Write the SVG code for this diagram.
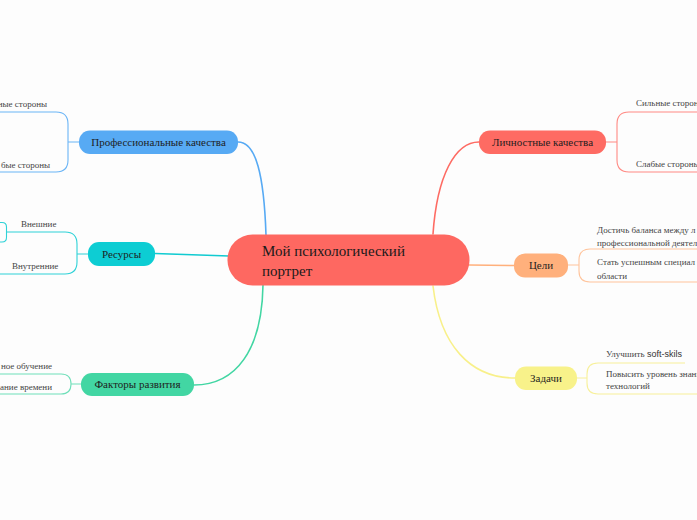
<svg xmlns="http://www.w3.org/2000/svg" width="697" height="520" viewBox="0 0 697 520">
<style>
.n{font-family:"Liberation Serif",serif;font-size:11px;fill:#1e1e1e;text-anchor:middle}
.s{font-family:"Liberation Serif",serif;font-size:9px;fill:#444}
.c{fill:none;stroke-width:1.6;stroke-linecap:round}
.b{fill:none;stroke-width:1.1}
</style>
<rect width="697" height="520" fill="#fdfdfd"/>
<g id="connectors">
<path class="c" stroke="#57aaf4" d="M238,142 C256,142 264,175 266,235"/>
<path class="c" stroke="#11cbd1" d="M155,253.5 L229,256"/>
<path class="c" stroke="#42d6a3" d="M194,385 C236,385 262,350 263,285"/>
<path class="c" stroke="#fe6b63" d="M479,142 C455,142 437,176 433,234"/>
<path class="c" stroke="#ffb07c" d="M469,265 L514,265.5"/>
<path class="c" stroke="#f8f08a" d="M433,286 C440,345 470,378 515,378"/>
<path class="b" stroke="#6bb5f6" d="M79,142 L68,142 M0,112 L56,112 Q68,112 68,124 L68,160 Q68,172 56,172 L0,172"/>
<path class="b" stroke="#2fd2d7" d="M88,254 L77,254 M6.5,232 L65,232 Q77,232 77,244 L77,262 Q77,274 65,274 L0,274 M0,222.5 L2,222.5 Q6.5,222.5 6.5,227 L6.5,237.5 Q6.5,242 2,242 L0,242"/>
<path class="b" stroke="#6fdfb9" d="M81,384 L71,384 M0,374 L61,374 Q71,374 71,384 Q71,394 61,394 L0,394"/>
<path class="b" stroke="#ff8a84" d="M606,142 L617,142 M697,112 L629,112 Q617,112 617,124 L617,160 Q617,172 629,172 L697,172"/>
<path class="b" stroke="#ffc49c" d="M568,265 L579,265 M697,249 L590,249 Q579,249 579,260 L579,271 Q579,282 590,282 L697,282"/>
<path class="b" stroke="#f7f09a" d="M577,378 L587,378 M685,363 L598,363 Q587,363 587,374 L587,383 Q587,394 598,394 L697,394"/>
</g>
<g id="center">
<rect x="227.5" y="234.5" width="242" height="51" rx="25" fill="#fe6861"/>
<text x="262" y="256" font-family="Liberation Serif,serif" font-size="15" fill="#1a1a1a">Мой психологический</text>
<text x="262" y="276" font-family="Liberation Serif,serif" font-size="15" fill="#1a1a1a">портрет</text>
</g>
<g id="prof">
<rect x="79" y="130.5" width="159" height="23.5" rx="11" fill="#57aaf4"/>
<text class="n" x="158.5" y="146">Профессиональные качества</text>
<text class="s" x="47" y="107" text-anchor="end">ные стороны</text>
<text class="s" x="50" y="168" text-anchor="end">бые стороны</text>
</g>
<g id="resursy">
<rect x="88" y="242" width="67" height="24" rx="11" fill="#0dcdd3"/>
<text class="n" x="121.5" y="258">Ресурсы</text>
<text class="s" x="21" y="227">Внешние</text>
<text class="s" x="12" y="269">Внутренние</text>
</g>
<g id="faktory">
<rect x="81" y="373" width="113" height="23" rx="11" fill="#42d6a3"/>
<text class="n" x="137.5" y="388">Факторы развития</text>
<text class="s" x="52" y="369" text-anchor="end">ное обучение</text>
<text class="s" x="52" y="390" text-anchor="end">ание времени</text>
</g>
<g id="lichnost">
<rect x="479" y="130.5" width="127" height="23.5" rx="11" fill="#fe6b63"/>
<text class="n" x="542.5" y="146">Личностные качества</text>
<text class="s" x="636" y="106">Сильные стороны</text>
<text class="s" x="636" y="167">Слабые стороны</text>
</g>
<g id="celi">
<rect x="514" y="253.5" width="54" height="24" rx="11" fill="#ffb07c"/>
<text class="n" x="541" y="269">Цели</text>
<text class="s" x="597" y="232.5">Достичь баланса между л</text>
<text class="s" x="597" y="246">профессиональной деятел</text>
<text class="s" x="597" y="265">Стать успешным специал</text>
<text class="s" x="597" y="278.5">области</text>
</g>
<g id="zadachi">
<rect x="515" y="366.5" width="62" height="23.5" rx="11" fill="#f8f28a"/>
<text class="n" x="546" y="382">Задачи</text>
<text class="s" x="606" y="357">Улучшить <tspan font-family="Liberation Sans,sans-serif" fill="#333">soft-skils</tspan></text>
<text class="s" x="606" y="377">Повысить уровень знани</text>
<text class="s" x="606" y="389">технологий</text>
</g>
</svg>
